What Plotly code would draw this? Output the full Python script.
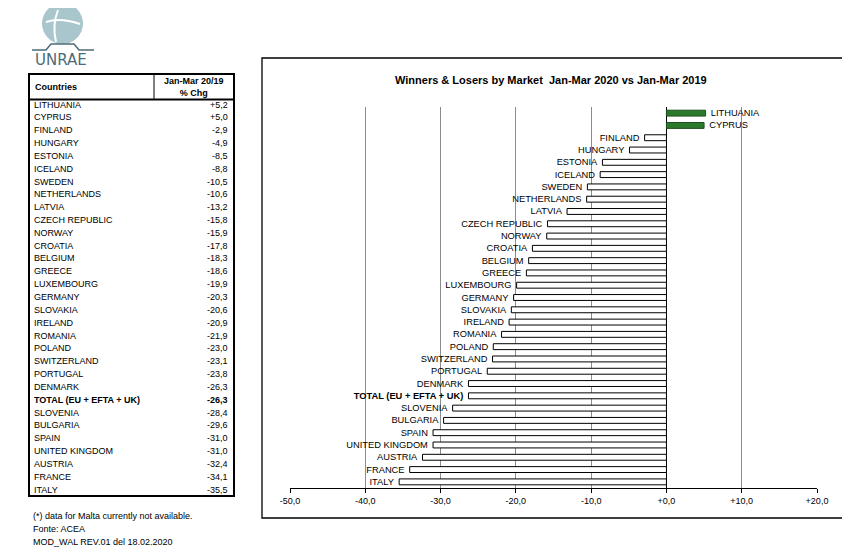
import plotly.graph_objects as go

countries = ["LITHUANIA", "CYPRUS", "FINLAND", "HUNGARY", "ESTONIA", "ICELAND", "SWEDEN",
             "NETHERLANDS", "LATVIA", "CZECH REPUBLIC", "NORWAY", "CROATIA", "BELGIUM", "GREECE",
             "LUXEMBOURG", "GERMANY", "SLOVAKIA", "IRELAND", "ROMANIA", "POLAND", "SWITZERLAND",
             "PORTUGAL", "DENMARK", "TOTAL (EU + EFTA + UK)", "SLOVENIA", "BULGARIA", "SPAIN",
             "UNITED KINGDOM", "AUSTRIA", "FRANCE", "ITALY"]
pct_chg = [5.2, 5.0, -2.9, -4.9, -8.5, -8.8, -10.5, -10.6, -13.2, -15.8, -15.9, -17.8, -18.3,
           -18.6, -19.9, -20.3, -20.6, -20.9, -21.9, -23.0, -23.1, -23.8, -26.3, -26.3, -28.4,
           -29.6, -31.0, -31.0, -32.4, -34.1, -35.5]
tick_vals = [-50, -40, -30, -20, -10, 0, 10, 20]
tick_text = ["-50,0", "-40,0", "-30,0", "-20,0", "-10,0", "+0,0", "+10,0", "+20,0"]
total_label = "TOTAL (EU + EFTA + UK)"

W, H = 850, 552
OFF = 8  # page body margin
FONT = "Liberation Sans, Arial, sans-serif"
NB = "\u00a0"


def px(x):
    return (x - OFF) / W


def py(y):
    return 1 - (y - OFF) / H


def fmt(v):
    return f"{v:+.1f}".replace(".", ",")


def bar_label(c, v):
    t = f"<b>{c}</b>" if c == total_label else c
    return (NB * 2 + t) if v > 0 else (t + NB * 2)


labels = [bar_label(c, v) for c, v in zip(countries, pct_chg)]
colors = ["#2b7a2b" if v > 0 else "white" for v in pct_chg]
lines = ["#1f4f1f" if v > 0 else "black" for v in pct_chg]

fig = go.Figure()
fig.add_trace(go.Bar(
    x=pct_chg, y=countries, orientation="h",
    marker=dict(color=colors, line=dict(color=lines, width=1)),
    width=0.48,
    text=labels, textposition="outside", constraintext="none", cliponaxis=False,
    textfont=dict(family=FONT, size=9.3, color="black"),
    hoverinfo="skip",
))

fig.update_layout(
    width=W, height=H, margin=dict(l=0, r=0, t=0, b=0, autoexpand=False),
    paper_bgcolor="white", plot_bgcolor="white", showlegend=False,
    bargap=0.5,
    xaxis=dict(domain=[px(290), px(817)], range=[-50, 20], tickvals=tick_vals, ticktext=tick_text,
               showgrid=True, gridcolor="#8c8c8c", gridwidth=1, zeroline=True, zerolinecolor="black",
               zerolinewidth=1, showline=True, linecolor="black", linewidth=1, ticks="outside",
               ticklen=4, tickcolor="black", tickfont=dict(family=FONT, size=9, color="black"),
               fixedrange=True, automargin=False),
    yaxis=dict(domain=[py(488), py(107)], categoryorder="array", categoryarray=countries,
               autorange=False, range=[len(countries) - 0.5, -0.5], showticklabels=False,
               showgrid=False, zeroline=False, showline=False, ticks="", fixedrange=True,
               automargin=False),
)

shapes = []
ann = []

# Chart box and title
shapes.append(dict(type="rect", xref="paper", yref="paper", x0=px(262), x1=px(846), y0=py(518), y1=py(58),
                   line=dict(color="black", width=1.3), fillcolor="rgba(0,0,0,0)", layer="below"))
ann.append(dict(xref="paper", yref="paper", x=px(551), y=py(80),
                text="<b>Winners & Losers by Market  Jan-Mar 2020 vs Jan-Mar 2019</b>",
                showarrow=False, font=dict(family=FONT, size=11, color="black"),
                xanchor="center", yanchor="middle"))

# Table
tx0, tx1, ty0, ty1 = 29, 234, 74, 496
shapes.append(dict(type="rect", xref="paper", yref="paper", x0=px(tx0), x1=px(tx1), y0=py(ty1), y1=py(ty0),
                   line=dict(color="black", width=2)))
shapes.append(dict(type="line", xref="paper", yref="paper", x0=px(tx0), x1=px(tx1), y0=py(99.5), y1=py(99.5),
                   line=dict(color="black", width=2)))
shapes.append(dict(type="line", xref="paper", yref="paper", x0=px(154), x1=px(154), y0=py(99.5), y1=py(ty0),
                   line=dict(color="black", width=1)))
ann.append(dict(xref="paper", yref="paper", x=px(33), y=py(87), text="<b>Countries</b>", showarrow=False,
                font=dict(family=FONT, size=9, color="black"), xanchor="left", yanchor="middle"))
ann.append(dict(xref="paper", yref="paper", x=px(194), y=py(87), text="<b>Jan-Mar 20/19<br>% Chg</b>",
                showarrow=False, font=dict(family=FONT, size=9, color="black"), xanchor="center",
                yanchor="middle", align="center"))
row0, step = 104.5, (489.5 - 104.5) / 30
for i, (c, v) in enumerate(zip(countries, pct_chg)):
    y = row0 + i * step
    bold = c == total_label
    ct = f"<b>{c}</b>" if bold else c
    vt = f"<b>{fmt(v)}</b>" if bold else fmt(v)
    ann.append(dict(xref="paper", yref="paper", x=px(32), y=py(y), text=ct, showarrow=False,
                    font=dict(family=FONT, size=9, color="black"), xanchor="left", yanchor="middle"))
    ann.append(dict(xref="paper", yref="paper", x=px(230), y=py(y), text=vt, showarrow=False,
                    font=dict(family=FONT, size=9, color="black"), xanchor="right", yanchor="middle"))

# Footnotes
for j, t in enumerate(["(*) data for Malta currently not available.", "Fonte: ACEA",
                       "MOD_WAL REV.01 del 18.02.2020"]):
    ann.append(dict(xref="paper", yref="paper", x=px(31), y=py(516 + j * 12.8), text=t, showarrow=False,
                    font=dict(family=FONT, size=9, color="black"), xanchor="left", yanchor="middle"))

# Logo
shapes.append(dict(type="circle", xref="paper", yref="paper", x0=px(42), x1=px(83), y0=py(44), y1=py(3),
                   line=dict(width=0), fillcolor="#a8c6cc"))
shapes.append(dict(type="path", xref="paper", yref="paper",
                   path=f"M {px(58)} {py(10)} Q {px(52)} {py(25)} {px(56)} {py(42)}",
                   line=dict(color="white", width=2)))
shapes.append(dict(type="path", xref="paper", yref="paper",
                   path=f"M {px(46)} {py(22)} Q {px(60)} {py(17)} {px(80)} {py(24)}",
                   line=dict(color="white", width=2)))
shapes.append(dict(type="path", xref="paper", yref="paper",
                   path=f"M {px(32)} {py(50)} L {px(46)} {py(50)} L {px(51)} {py(44)} L {px(74)} {py(44)} "
                        f"L {px(79)} {py(50)} L {px(94)} {py(50)}",
                   line=dict(color="#4d6b78", width=1.5)))
ann.append(dict(xref="paper", yref="paper", x=px(61), y=py(60), text="UNRAE", showarrow=False,
                font=dict(family="DejaVu Sans, sans-serif", size=15, color="#4d6b78"),
                xanchor="center", yanchor="middle"))

fig.update_layout(shapes=shapes, annotations=ann)
fig.write_html("out.html")
